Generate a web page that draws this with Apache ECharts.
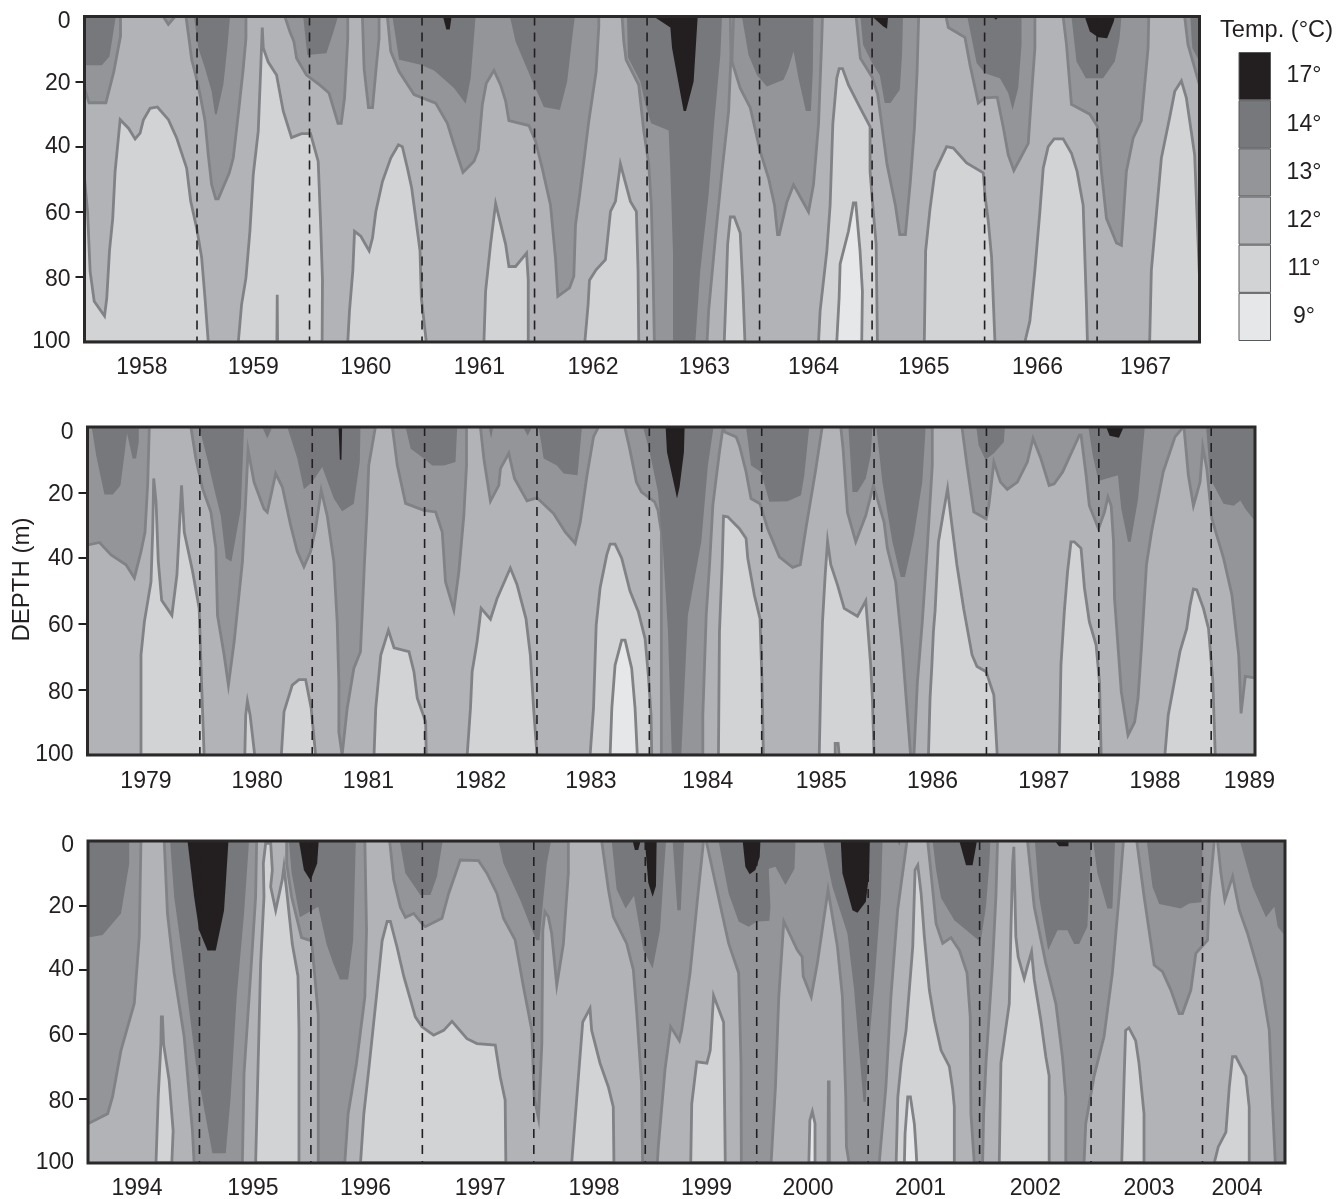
<!DOCTYPE html>
<html><head><meta charset="utf-8">
<style>html,body{margin:0;padding:0;background:#fff}#c{width:1336px;height:1199px}</style>
<script src="https://cdn.jsdelivr.net/npm/echarts@6/dist/echarts.min.js"></script>
</head><body><div id="c"></div>
<script>
// Every point is [year, depth in metres].
var depthTicks=[20,40,60,80];
var depthLabelPositions=[1.6,20.5,40,60.5,81,100];
var legendLabels=['9°','11°','12°','13°','14°','17°'];
var legendColors=['#e6e7e8','#d1d3d4','#b1b3b6','#939598','#77787b','#231f20'];

// ---------- 1958-1967 ----------
var p1YearTicks=[1959,1960,1961,1962,1963,1964,1965,1966,1967];
var p1LabelYears=[1958.51,1959.5,1960.5,1961.51,1962.52,1963.51,1964.48,1965.46,1966.47,1967.43];
var p1Band13=[
[[1958,0],[1958.32,0],[1958.32,6],[1958.26,17],[1958.19,26.5],[1958.04,26.5],[1958,22]],
[[1958.7,0],[1958.745,2.4],[1958.805,0]],
[[1958.902,0],[1958.932,7.7],[1958.953,13.3],[1958.991,18.4],[1959.027,24],[1959.071,32],[1959.1,42.5],[1959.13,51.7],[1959.166,56],[1959.189,56],[1959.287,48],[1959.322,43.5],[1959.367,30],[1959.411,15.9],[1959.435,6.7],[1959.435,0]],
[[1959.781,0],[1959.825,4.6],[1959.861,7.7],[1959.885,12.8],[1959.973,18],[1960.09,21],[1960.173,23.5],[1960.253,32.8],[1960.282,32.8],[1960.311,25],[1960.34,6.7],[1960.34,0]],
[[1960.47,0],[1960.485,16],[1960.524,28],[1960.56,28],[1960.589,17],[1960.618,6.7],[1960.618,0]],
[[1960.692,0],[1960.722,10.7],[1960.796,16.9],[1960.929,24],[1961.003,25],[1961.121,26.6],[1961.225,32.8],[1961.284,39.4],[1961.364,47.9],[1961.462,44.5],[1961.5,41],[1961.536,27],[1961.571,20.5],[1961.639,16.6],[1961.698,21],[1961.743,26],[1961.772,32],[1961.95,33.5],[1962.009,38.4],[1962.068,46.6],[1962.142,58],[1962.186,74.2],[1962.207,86],[1962.311,83.4],[1962.349,79.8],[1962.364,64],[1962.4,55],[1962.482,32.2],[1962.547,17],[1962.571,3],[1962.571,0]],
[[1962.778,0],[1962.793,7.7],[1962.814,13.3],[1962.926,21],[1962.97,35],[1963.015,45.5],[1963.038,58],[1963.053,78],[1963.065,100],[1963.533,100],[1963.547,90.5],[1963.607,68],[1963.666,47.6],[1963.725,29],[1963.746,12],[1963.74,0]],
[[1963.769,0],[1963.754,13.8],[1963.828,22],[1963.917,28],[1964.006,41.5],[1964.08,49.7],[1964.133,58],[1964.16,67],[1964.175,67],[1964.243,57],[1964.302,51.7],[1964.435,60],[1964.479,51.7],[1964.524,33],[1964.553,6.7],[1964.559,0]],
[[1964.858,0],[1964.896,12.8],[1965,18.6],[1965.05,24],[1965.133,45.5],[1965.207,58],[1965.246,67],[1965.296,67],[1965.34,50.7],[1965.376,34.3],[1965.4,16.9],[1965.414,0]],
[[1965.657,0],[1965.678,3.4],[1965.825,6.4],[1965.87,14.8],[1965.944,26.6],[1966.003,25],[1966.112,24.8],[1966.166,34],[1966.21,42.5],[1966.26,47.3],[1966.388,39],[1966.417,24],[1966.447,9.7],[1966.447,0]],
[[1966.698,0],[1966.728,8.7],[1966.772,27],[1966.935,30],[1967.003,33.8],[1967.038,47.6],[1967.083,62],[1967.172,69.6],[1967.216,70.3],[1967.26,47.6],[1967.32,37.4],[1967.393,32],[1967.453,9.7],[1967.459,0]],
[[1967.778,0],[1967.808,8.7],[1967.91,21],[1967.91,0]]
];
var p1Band14=[
[[1958,0],[1958.278,0],[1958.222,12.3],[1958.154,15],[1958,15]],
[[1958.973,0],[1959.012,9.7],[1959.071,15.9],[1959.13,23],[1959.16,30],[1959.175,30],[1959.234,21],[1959.269,9.7],[1959.293,0]],
[[1959.944,0],[1959.98,11.8],[1960.15,11.3],[1960.21,5],[1960.253,0]],
[[1960.737,0],[1960.796,13.3],[1960.988,14.8],[1961.107,16.6],[1961.284,22],[1961.388,26.8],[1961.432,19],[1961.476,0]],
[[1961.781,0],[1961.831,7.7],[1961.994,21],[1962.083,27.8],[1962.225,28.7],[1962.29,20],[1962.334,6.7],[1962.358,0]],
[[1962.822,0],[1962.83,12.5],[1962.941,20],[1962.985,27],[1963.036,32.8],[1963.192,35],[1963.207,47.6],[1963.231,73],[1963.231,100],[1963.429,100],[1963.473,78],[1963.547,54.8],[1963.598,32],[1963.651,12],[1963.666,0]],
[[1963.843,0],[1963.902,11.8],[1963.976,18],[1964.065,21.5],[1964.213,19.4],[1964.257,15.9],[1964.302,10.7],[1964.346,19],[1964.411,29],[1964.456,29],[1964.473,17],[1964.479,0]],
[[1964.896,0],[1964.92,8.7],[1965,14.3],[1965.068,18],[1965.112,26.6],[1965.163,26.6],[1965.246,22.5],[1965.266,11.8],[1965.275,0]],
[[1965.846,0],[1965.929,14.3],[1966.003,17.4],[1966.136,19],[1966.21,23.5],[1966.249,28.7],[1966.299,22],[1966.328,8.7],[1966.328,0]],
[[1966.772,0],[1966.817,13.8],[1966.9,19],[1967.053,19],[1967.157,13.8],[1967.2,6.7],[1967.216,0]],
[[1967.828,0],[1967.846,9.7],[1967.91,13.8],[1967.91,0]]
];
var p1Band17=[
[[1961.186,0],[1961.216,4],[1961.246,4],[1961.263,0]],
[[1963.059,0],[1963.207,3.4],[1963.222,9.7],[1963.325,29],[1963.346,29],[1963.414,20],[1963.45,0]],
[[1965,0],[1965.098,3],[1965.133,3.8],[1965.142,0]],
[[1966.071,0],[1966.101,1],[1966.127,0]],
[[1966.89,0],[1966.935,4.6],[1967.009,6.4],[1967.089,6.7],[1967.148,1.5],[1967.157,0]]
];
var p1Band11=[
[[1958,100],[1958,49.6],[1958.027,60],[1958.05,78.3],[1958.086,87.5],[1958.178,92],[1958.198,86.5],[1958.222,72],[1958.251,62],[1958.272,47.6],[1958.317,31.7],[1958.391,34.3],[1958.45,37.6],[1958.494,35.8],[1958.524,31.7],[1958.583,28.2],[1958.648,27.8],[1958.746,31.7],[1958.82,37.4],[1958.908,46.6],[1958.944,56.8],[1958.997,65],[1959.041,74],[1959.071,86.5],[1959.1,100]],
[[1959.367,100],[1959.396,88.5],[1959.435,80.3],[1959.47,66],[1959.5,48.6],[1959.544,35.3],[1959.565,17],[1959.58,3.4],[1959.589,9.7],[1959.633,14],[1959.707,18],[1959.766,29],[1959.84,37.2],[1959.929,36],[1960.009,36],[1960.077,44.5],[1960.098,63],[1960.115,81],[1960.112,100],[1959.716,100],[1959.713,85.5],[1959.71,100]],
[[1960.34,100],[1960.355,90.5],[1960.385,78],[1960.4,66],[1960.456,67.5],[1960.53,72],[1960.56,68],[1960.589,60],[1960.648,50.7],[1960.722,43.5],[1960.79,39.4],[1960.825,40],[1960.87,46.6],[1960.908,52.7],[1960.944,62],[1960.982,72],[1960.994,86.5],[1961.038,100]],
[[1961.55,100],[1961.565,84.4],[1961.609,70],[1961.654,57.5],[1961.743,70],[1961.772,76.8],[1961.831,76.8],[1961.929,72.7],[1961.944,81],[1961.944,100]],
[[1962.447,100],[1962.476,88.5],[1962.488,81],[1962.547,77.8],[1962.63,74.7],[1962.675,59.9],[1962.719,56.8],[1962.763,45.3],[1962.852,56.8],[1962.905,59.9],[1962.92,78.3],[1962.926,100]],
[[1963.686,100],[1963.704,83],[1963.716,70],[1963.74,61.6],[1963.775,61.6],[1963.828,66.5],[1963.852,83.4],[1963.87,100]],
[[1964.524,100],[1964.538,90.5],[1964.598,72],[1964.627,58],[1964.651,33],[1964.686,19],[1964.707,16],[1964.737,16],[1964.79,21],[1964.893,28],[1964.982,33.8],[1964.982,47.6],[1965.006,58],[1965.036,70],[1965.047,100]],
[[1965.464,100],[1965.476,72],[1965.515,59],[1965.559,47.6],[1965.663,40],[1965.722,40.4],[1965.84,45],[1965.988,48],[1966.003,54.8],[1966.033,63],[1966.062,74],[1966.092,100]],
[[1966.358,100],[1966.402,93.6],[1966.447,78],[1966.491,60],[1966.521,46.6],[1966.565,40],[1966.618,37.6],[1966.698,37.6],[1966.772,42],[1966.822,47.6],[1966.876,58],[1966.905,88.5],[1966.914,100]],
[[1967.467,100],[1967.482,78],[1967.571,43.5],[1967.645,31],[1967.69,23],[1967.749,19.8],[1967.793,25],[1967.867,42.5],[1967.896,68],[1967.91,80],[1967.91,100]]
];
var p1Band9=[
[[1964.686,100],[1964.707,86.5],[1964.716,76],[1964.79,66],[1964.834,57.3],[1964.855,57.3],[1964.893,72],[1964.914,84.4],[1964.908,100]]
];

// ---------- 1979-1989 ----------
var p2YearTicks=[1980,1981,1982,1983,1984,1985,1986,1987,1988,1989];
var p2LabelYears=[1979.52,1980.51,1981.5,1982.5,1983.48,1984.52,1985.53,1986.52,1987.51,1988.5,1989.34];
var p2Band13=[
[[1979,0],[1979,36],[1979.107,35.2],[1979.21,39],[1979.343,42],[1979.417,46],[1979.476,38],[1979.512,32],[1979.536,17],[1979.55,0]],
[[1979.92,0],[1979.964,9.6],[1980.024,18.8],[1980.098,25.9],[1980.142,37],[1980.157,57.4],[1980.216,69.5],[1980.254,78.7],[1980.305,65.5],[1980.379,41],[1980.408,22],[1980.429,7],[1980.482,16.8],[1980.571,25],[1980.6,26],[1980.675,14.2],[1980.734,18.3],[1980.808,30],[1980.867,38],[1980.926,42.6],[1980.985,38],[1981.03,31],[1981.08,19.3],[1981.133,27],[1981.192,41],[1981.222,59.4],[1981.237,78],[1981.237,93],[1981.266,100],[1981.311,85.8],[1981.37,73.6],[1981.429,68.5],[1981.444,57.4],[1981.464,42],[1981.488,25],[1981.503,11.7],[1981.562,0]],
[[1981.713,0],[1981.757,11.7],[1981.831,23.3],[1981.994,25.4],[1982.098,25.9],[1982.157,32],[1982.186,47.2],[1982.26,55.8],[1982.305,44],[1982.349,27],[1982.373,11.7],[1982.373,0]],
[[1982.497,0],[1982.527,9.6],[1982.586,22.6],[1982.66,17.8],[1982.675,12.7],[1982.749,8],[1982.8,15.7],[1982.911,22.5],[1983,21.6],[1983.148,26.4],[1983.251,32],[1983.34,35.5],[1983.385,29],[1983.444,15],[1983.503,3],[1983.547,0]],
[[1983.781,0],[1983.825,6.6],[1983.885,16.8],[1983.929,19.8],[1984.047,22.8],[1984.077,25.4],[1984.107,32],[1984.107,100],[1984.476,100],[1984.476,87.8],[1984.506,57.4],[1984.536,42],[1984.565,23.9],[1984.624,7.6],[1984.654,0.5],[1984.66,0]],
[[1984.66,0],[1984.67,1.5],[1984.772,3],[1984.802,5.6],[1984.861,13.7],[1984.905,21.8],[1984.985,23.4],[1985.053,31],[1985.157,39.6],[1985.275,42.8],[1985.343,42],[1985.393,31],[1985.482,12.7],[1985.536,0.5],[1985.54,0]],
[[1985.704,0],[1985.725,7],[1985.763,26],[1985.837,35],[1985.926,27],[1985.994,17.8],[1986.089,29],[1986.118,37],[1986.192,47.2],[1986.251,67.5],[1986.325,100],[1986.355,100],[1986.385,78],[1986.429,59.4],[1986.473,37],[1986.518,11.7],[1986.518,0]],
[[1986.782,0],[1986.827,11.7],[1986.887,25.9],[1986.997,28],[1987.021,24],[1987.066,10.7],[1987.125,16.8],[1987.185,19],[1987.275,16.8],[1987.364,10.7],[1987.415,3.5],[1987.484,9.6],[1987.558,17.8],[1987.603,17.3],[1987.678,13.7],[1987.827,2.5],[1987.842,2.5],[1987.887,14.7],[1987.916,24],[1987.997,31],[1988.05,26],[1988.081,21.3],[1988.11,24],[1988.131,35],[1988.14,52.3],[1988.2,80.7],[1988.26,94],[1988.319,90],[1988.349,82.7],[1988.379,67.5],[1988.424,42],[1988.469,32],[1988.573,13.7],[1988.678,3],[1988.752,0]],
[[1988.758,0],[1988.797,14.7],[1988.842,24],[1988.901,16.8],[1988.925,6],[1988.961,12.7],[1989.006,28],[1989.11,40],[1989.185,51.3],[1989.245,69.5],[1989.266,87.3],[1989.304,76],[1989.39,76.5],[1989.39,0]]
];
var p2Band14=[
[[1979.038,0],[1979.077,8.6],[1979.151,20.6],[1979.225,20.6],[1979.293,17.8],[1979.328,8.6],[1979.352,2],[1979.402,9.6],[1979.432,9.6],[1979.456,4.6],[1979.456,0]],
[[1979.994,0],[1980.068,10],[1980.127,18.8],[1980.186,27],[1980.231,40],[1980.281,41],[1980.364,25],[1980.393,0]],
[[1980.556,0],[1980.6,3.5],[1980.645,0]],
[[1980.778,0],[1980.867,9.6],[1980.926,19],[1981,16.8],[1981.089,12.2],[1981.192,21.8],[1981.266,25.7],[1981.37,23.4],[1981.423,10.7],[1981.429,0]],
[[1981.831,0],[1981.876,6.6],[1981.994,9.6],[1982.068,11.7],[1982.172,11.7],[1982.275,10.7],[1982.29,0]],
[[1982.571,0],[1982.592,3.5],[1982.61,0]],
[[1982.876,0],[1982.917,2.7],[1982.956,0]],
[[1983.015,0],[1983.059,9.6],[1983.178,11.7],[1983.237,14.2],[1983.361,14.7],[1983.4,0]],
[[1983.944,0],[1984.003,7.6],[1984.077,19.8],[1984.121,37],[1984.166,62.4],[1984.2,100],[1984.284,100],[1984.343,57.4],[1984.462,35],[1984.521,11.7],[1984.571,0]],
[[1984.861,0],[1984.905,11.7],[1984.994,13.7],[1985.068,22.8],[1985.231,22.6],[1985.349,20.8],[1985.379,14.7],[1985.423,0]],
[[1985.772,0],[1985.808,19.8],[1985.852,19.8],[1985.926,15.7],[1985.97,8.6],[1985.985,0]],
[[1986.02,0],[1986.074,16.8],[1986.163,35],[1986.237,45.7],[1986.275,45.7],[1986.355,33],[1986.429,16.8],[1986.459,0]],
[[1986.91,0],[1986.931,5.6],[1986.991,10],[1987.066,8],[1987.155,4.6],[1987.164,0]],
[[1987.907,0],[1987.946,8.6],[1987.997,16.5],[1988.17,14.7],[1988.2,24.9],[1988.26,35],[1988.284,35],[1988.349,22],[1988.409,0]],
[[1988.955,0],[1988.991,15.7],[1989.11,23.4],[1989.2,24],[1989.26,22.4],[1989.304,25],[1989.385,28.4],[1989.39,28.4],[1989.39,0]]
];
var p2Band17=[
[[1981.234,0],[1981.246,10],[1981.26,10],[1981.266,0]],
[[1984.145,0],[1984.157,7.6],[1984.225,18.3],[1984.246,21.8],[1984.269,18.3],[1984.308,7.6],[1984.314,0]],
[[1988.066,0],[1988.096,2.7],[1988.179,3.3],[1988.221,0]]
];
var p2Band11=[
[[1979.476,100],[1979.476,69.5],[1979.506,59.4],[1979.565,47.2],[1979.58,32],[1979.589,15.7],[1979.61,22.8],[1979.63,41],[1979.66,52.8],[1979.751,57.4],[1979.796,45],[1979.837,17.8],[1979.861,32],[1979.935,44],[1979.994,55.3],[1980.015,78],[1980.038,100]],
[[1980.4,100],[1980.408,87.8],[1980.423,83.6],[1980.447,87.8],[1980.488,100]],
[[1980.725,100],[1980.749,86.8],[1980.822,78.7],[1980.882,77],[1980.941,77],[1980.991,85.8],[1981.03,100]],
[[1981.55,100],[1981.565,85.8],[1981.61,69.5],[1981.678,62],[1981.728,67.3],[1981.861,68.5],[1981.905,74.6],[1981.935,82.7],[1982.009,89.8],[1982.015,100]],
[[1982.379,100],[1982.408,85.8],[1982.423,74.6],[1982.467,65.5],[1982.503,55.3],[1982.586,58.6],[1982.645,52.3],[1982.763,43],[1982.822,48],[1982.902,58.4],[1982.941,69.5],[1982.97,85.8],[1983,100]],
[[1983.473,100],[1983.503,85.8],[1983.527,60.4],[1983.562,49],[1983.621,39],[1983.651,35.7],[1983.695,35.7],[1983.754,40],[1983.828,50],[1983.902,56.3],[1983.962,64.5],[1983.991,75.6],[1984.015,87.8],[1984.021,100]],
[[1984.615,100],[1984.624,62.4],[1984.648,42],[1984.66,27.2],[1984.698,27.4],[1984.802,31],[1984.861,34],[1984.876,40],[1984.935,51.3],[1984.985,58.4],[1985.003,78],[1985.015,100]],
[[1985.512,100],[1985.527,75.6],[1985.541,59.4],[1985.565,45],[1985.586,34.8],[1985.615,42],[1985.675,48.2],[1985.734,55.3],[1985.852,57.7],[1985.926,53],[1985.97,72.6],[1985.985,82.7],[1986,100],[1985.689,100],[1985.68,96.5],[1985.654,96.5],[1985.654,100]],
[[1986.484,100],[1986.498,82.7],[1986.513,73.6],[1986.528,62.4],[1986.543,56],[1986.573,35],[1986.618,25.9],[1986.654,18.8],[1986.678,25.9],[1986.737,42],[1986.797,55.3],[1986.872,69.5],[1986.916,73],[1986.997,74.6],[1987.066,81.7],[1987.096,100]],
[[1987.648,100],[1987.663,72.6],[1987.693,56.3],[1987.722,44],[1987.752,35],[1987.782,35],[1987.842,37],[1987.872,49],[1987.916,59.4],[1987.976,66.5],[1988.006,77.7],[1988.021,100]],
[[1988.588,100],[1988.618,87.8],[1988.722,68.5],[1988.782,61.5],[1988.812,54.3],[1988.842,49.4],[1988.872,49.7],[1988.931,55.3],[1988.976,61.4],[1989.015,77.7],[1989.036,100]]
];
var p2Band9=[
[[1983.651,100],[1983.666,85.8],[1983.695,72.6],[1983.754,65],[1983.784,65],[1983.843,73.6],[1983.873,85.8],[1983.893,100]]
];

// ---------- 1994-2004 ----------
var p3YearTicks=[1995,1996,1997,1998,1999,2000,2001,2002,2003,2004];
var p3LabelYears=[1994.44,1995.48,1996.49,1997.52,1998.54,1999.55,2000.46,2001.47,2002.5,2003.52,2004.31];
var p3Band13=[
[[1994,0],[1994,87.8],[1994.176,84.7],[1994.22,79.5],[1994.296,65],[1994.415,50.5],[1994.46,29.7],[1994.475,0]],
[[1994.684,0],[1994.713,22.5],[1994.773,41],[1994.863,60.8],[1994.937,90],[1994.952,100],[1995.385,100],[1995.4,72.2],[1995.46,41],[1995.504,17.3],[1995.513,0]],
[[1995.782,0],[1995.782,7],[1995.827,17.3],[1995.916,30],[1996.006,31],[1996.066,54],[1996.066,100],[1996.304,100],[1996.334,84.7],[1996.409,69],[1996.484,48.4],[1996.499,27.7],[1996.484,0]],
[[1996.707,0],[1996.743,12],[1996.803,20.6],[1996.848,23.7],[1996.922,22.5],[1996.997,25.6],[1997.027,26.6],[1997.176,24],[1997.236,16.3],[1997.34,5.9],[1997.504,6.1],[1997.579,10],[1997.669,16.3],[1997.728,24],[1997.833,30.8],[1997.907,45.3],[1997.982,58.8],[1998.003,79.5],[1998.042,86.2],[1998.072,62.9],[1998.081,27.7],[1998.1,22],[1998.13,23.5],[1998.16,28.7],[1998.206,44.8],[1998.265,32],[1998.31,10],[1998.31,0]],
[[1998.609,0],[1998.669,15],[1998.713,23.5],[1998.833,31.8],[1998.893,40],[1998.922,52.6],[1998.967,75.4],[1998.976,100],[1999.108,100],[1999.117,95],[1999.177,71],[1999.228,57.7],[1999.306,62],[1999.327,58.8],[1999.402,41],[1999.477,15.2],[1999.523,0]],
[[1999.547,0],[1999.643,15.2],[1999.748,31.8],[1999.838,41],[1999.859,69],[1999.862,100],[2000.129,100],[2000.168,76.4],[2000.198,48.4],[2000.243,25],[2000.363,33.8],[2000.408,36],[2000.417,42],[2000.489,48.4],[2000.544,38],[2000.64,15.2],[2000.724,32.8],[2000.769,48.4],[2000.799,79.5],[2000.805,95],[2000.829,100],[2001.099,100],[2001.159,76.4],[2001.204,48.4],[2001.264,21.5],[2001.348,0]],
[[2001.534,0],[2001.564,10],[2001.609,25.6],[2001.669,31.8],[2001.743,30],[2001.818,33.9],[2001.887,41],[2001.916,54.6],[2001.922,84.7],[2001.952,100],[2002.027,100],[2002.036,84.7],[2002.057,69],[2002.116,38],[2002.146,17.3],[2002.161,0]],
[[2002.43,0],[2002.49,20.4],[2002.594,38],[2002.684,50.5],[2002.743,67],[2002.773,79.5],[2002.773,100],[2002.937,100],[2002.952,87.8],[2003.027,73],[2003.116,60.8],[2003.191,41],[2003.251,17.3],[2003.29,0]],
[[2003.41,0],[2003.476,17.3],[2003.566,38.5],[2003.641,40.6],[2003.716,46.3],[2003.79,53.6],[2003.82,53.6],[2003.895,46.3],[2003.94,34.9],[2004.045,30.8],[2004.06,17.3],[2004.105,0]],
[[2004.135,0],[2004.165,10],[2004.2,18.3],[2004.27,11],[2004.33,21.5],[2004.404,28.7],[2004.524,43.2],[2004.599,58.8],[2004.629,82.6],[2004.653,100],[2004.74,100],[2004.74,0]]
];
var p3Band14=[
[[1994,0],[1994,30],[1994.131,29.2],[1994.296,22.5],[1994.37,7],[1994.37,0]],
[[1994.737,0],[1994.773,17.3],[1994.863,40],[1994.967,69],[1995.116,97],[1995.236,97],[1995.28,79.5],[1995.334,48.4],[1995.4,22.5],[1995.445,0]],
[[1995.803,0],[1995.827,10],[1995.901,23.7],[1996.066,20.4],[1996.14,32],[1996.2,38],[1996.26,43],[1996.334,43],[1996.379,30.8],[1996.403,0]],
[[1996.797,0],[1996.848,10],[1996.982,16.8],[1997.072,16.8],[1997.131,11],[1997.182,0]],
[[1997.684,0],[1997.728,7],[1997.878,18.3],[1998.021,30.8],[1998.051,30.8],[1998.087,17.3],[1998.116,7],[1998.155,0]],
[[1998.699,0],[1998.743,15],[1998.824,21],[1998.899,17],[1998.982,33.8],[1999.066,39.6],[1999.132,27.7],[1999.162,12],[1999.186,0]],
[[1999.246,0],[1999.288,21.5],[1999.318,21.5],[1999.348,0]],
[[1999.658,0],[1999.748,16.3],[1999.838,25],[1999.928,26.6],[2000.003,25],[2000.114,24.8],[2000.123,20.4],[2000.108,8.6],[2000.168,8],[2000.258,13.7],[2000.339,8.6],[2000.348,0]],
[[2000.595,0],[2000.679,14.2],[2000.814,28.7],[2000.874,46.2],[2000.958,81],[2000.979,81],[2000.994,68],[2001.054,45],[2001.114,17.3],[2001.129,0]],
[[2001.264,0],[2001.279,1.5],[2001.294,0]],
[[2001.579,0],[2001.609,8.9],[2001.654,17.7],[2001.773,24.6],[2001.982,30.6],[2002.012,30.6],[2002.057,20.4],[2002.087,7],[2002.096,0]],
[[2002.496,0],[2002.534,17.3],[2002.615,33.9],[2002.699,27.7],[2002.788,27.7],[2002.848,32],[2002.893,32],[2002.967,26.6],[2003.003,0]],
[[2003.018,0],[2003.057,10],[2003.146,21],[2003.191,21],[2003.215,0]],
[[2003.5,0],[2003.551,14.2],[2003.611,19.6],[2003.805,21],[2003.88,19.4],[2003.991,19],[2004,0]],
[[2004.335,0],[2004.449,14.2],[2004.569,23.7],[2004.644,20.4],[2004.674,26.6],[2004.734,29.2],[2004.74,29.2],[2004.74,0]]
];
var p3Band17=[
[[1994.893,0],[1994.952,17.3],[1994.997,27.7],[1995.072,34],[1995.146,34],[1995.221,21.5],[1995.26,0]],
[[1995.893,0],[1995.937,9],[1995.997,12.3],[1996.056,7],[1996.07,0]],
[[1998.887,0],[1998.907,2.8],[1998.937,2.8],[1998.958,0]],
[[1998.997,0],[1999.027,13],[1999.066,17.3],[1999.096,14],[1999.102,0]],
[[1999.874,0],[1999.898,8],[1999.937,10.3],[1999.988,9],[2000.027,5],[2000.033,0]],
[[2000.754,0],[2000.769,10],[2000.859,21.5],[2000.904,22.3],[2000.979,18.9],[2001.009,10],[2001.015,0]],
[[2001.818,0],[2001.878,7.5],[2001.937,7.5],[2001.976,0]],
[[2002.675,0],[2002.713,1.6],[2002.797,1.6],[2002.797,0]]
];
var p3Band11=[
[[1994.61,100],[1994.63,79.5],[1994.654,63],[1994.658,54.6],[1994.668,54.6],[1994.678,63],[1994.728,74.3],[1994.764,90],[1994.752,100]],
[[1995.504,100],[1995.534,58.8],[1995.549,38],[1995.579,17.3],[1995.573,7],[1995.594,0.7],[1995.639,0.7],[1995.654,9],[1995.639,14.2],[1995.684,21.5],[1995.743,12],[1995.758,8],[1995.788,17.3],[1995.833,32],[1995.884,42],[1995.893,58.8],[1995.893,100]],
[[1996.445,100],[1996.475,84.7],[1996.519,71],[1996.594,46.3],[1996.639,31],[1996.684,25],[1996.713,25],[1996.773,33],[1996.833,42],[1996.937,54.6],[1996.997,57.7],[1997.101,60.3],[1997.191,58.8],[1997.266,56],[1997.4,61.4],[1997.49,62.9],[1997.654,63.4],[1997.699,73.3],[1997.743,80.5],[1997.749,100]],
[[1998.34,100],[1998.4,73.3],[1998.439,56.2],[1998.504,52],[1998.519,58.8],[1998.594,69],[1998.669,76.4],[1998.713,82.6],[1998.719,100]],
[[1999.408,100],[1999.417,81.6],[1999.462,68.6],[1999.553,69],[1999.583,65],[1999.613,48],[1999.703,56.3],[1999.718,100]],
[[2000.64,100],[2000.643,74.8],[2000.65,74.8],[2000.652,100]],
[[2001.251,100],[2001.266,79.5],[2001.296,69],[2001.34,58.8],[2001.4,32.8],[2001.421,9],[2001.445,7.5],[2001.475,16.3],[2001.504,29.7],[2001.549,46.3],[2001.594,55.6],[2001.654,65],[2001.728,70],[2001.758,77],[2001.773,82.6],[2001.773,100]],
[[2002.176,100],[2002.191,69],[2002.266,50.5],[2002.281,27.7],[2002.296,7],[2002.307,1.8],[2002.325,29.7],[2002.346,36],[2002.4,42.7],[2002.436,38],[2002.466,34.4],[2002.49,43],[2002.549,55.6],[2002.594,67],[2002.624,73],[2002.624,100]],
[[2003.275,100],[2003.296,74.3],[2003.31,58.8],[2003.34,58],[2003.4,62],[2003.43,69],[2003.475,84.7],[2003.475,100]],
[[2004.105,100],[2004.141,95],[2004.21,90.4],[2004.24,76.4],[2004.269,67],[2004.299,67],[2004.389,73],[2004.419,82.6],[2004.419,100]]
];
var p3Band9=[
[[2000.468,100],[2000.477,86.7],[2000.499,84],[2000.523,87.7],[2000.523,100]],
[[2001.325,100],[2001.331,91],[2001.355,79.5],[2001.379,79.5],[2001.415,88],[2001.43,96],[2001.436,100]]
];

var INK='#231f20', STROKE='#808285', FONT='"Liberation Sans",Arial,sans-serif', FS=23;
var COL={9:'#e6e7e8',11:'#d1d3d4',12:'#b1b3b6',13:'#939598',14:'#77787b',17:'#231f20'};

var panels=[
 {left:84.5,top:16.5,w:1115,h:325.5,min:1958,max:1967.91,ticks:p1YearTicks,labels:p1LabelYears,margin:14,
  bands:[[13,p1Band13],[14,p1Band14],[17,p1Band17],[11,p1Band11],[9,p1Band9]]},
 {left:87.5,top:427,w:1167.5,h:328,min:1979,max:1989.39,ticks:p2YearTicks,labels:p2LabelYears,margin:15,
  bands:[[13,p2Band13],[14,p2Band14],[17,p2Band17],[11,p2Band11],[9,p2Band9]]},
 {left:88,top:841,w:1197,h:322,min:1994,max:2004.74,ticks:p3YearTicks,labels:p3LabelYears,margin:14,
  bands:[[13,p3Band13],[14,p3Band14],[17,p3Band17],[11,p3Band11],[9,p3Band9]]}
];

var grids=[],xAxes=[],yAxes=[],series=[];
panels.forEach(function(p,i){
  grids.push({left:p.left,top:p.top,width:p.w,height:p.h,show:true,borderWidth:0,backgroundColor:COL[12],outerBoundsMode:'none'});
  xAxes.push({type:'value',gridIndex:i,min:p.min,max:p.max,splitLine:{show:false},
    axisLine:{show:false},
    axisTick:{show:true,customValues:p.ticks,length:10,inside:false,lineStyle:{color:INK,width:2}},
    axisLabel:{show:true,customValues:p.labels,margin:p.margin,fontFamily:FONT,fontSize:FS,color:INK,hideOverlap:false,
      formatter:function(v){return String(Math.floor(v));}}});
  yAxes.push({type:'value',gridIndex:i,inverse:true,min:0,max:100,interval:20,splitLine:{show:false},
    axisLine:{show:false},
    axisTick:{show:true,customValues:depthTicks,length:9,lineStyle:{color:INK,width:2}},
    axisLabel:{customValues:depthLabelPositions,margin:14,fontFamily:FONT,fontSize:FS,color:INK,
      formatter:function(v){return String(Math.round(v/20)*20);}}});
  p.bands.forEach(function(b){
    var temp=b[0];
    b[1].forEach(function(poly,k){
      series.push({type:'custom',name:temp+'° p'+(i+1)+'-'+k,xAxisIndex:i,yAxisIndex:i,animation:false,silent:true,
        data:poly,encode:{x:0,y:1},clip:true,
        renderItem:function(params,api){
          if(params.dataIndex!==0) return null;
          var pts=poly.map(function(q){return api.coord(q);});
          var lined=(temp===13||temp===11||temp===9);
          return {type:'polygon',shape:{points:pts},style:{fill:COL[temp],stroke:lined?STROKE:null,lineWidth:lined?2.8:0,lineJoin:'miter'}};
        }});
    });
  });
  // dashed year boundaries
  series.push({type:'custom',name:'years p'+(i+1),xAxisIndex:i,yAxisIndex:i,animation:false,silent:true,z:4,
    data:p.ticks.map(function(t){return [t,0];}),encode:{x:0,y:1},
    renderItem:function(params,api){
      var a=api.coord([api.value(0),0]),b=api.coord([api.value(0),100]);
      return {type:'line',shape:{x1:a[0],y1:a[1],x2:b[0],y2:b[1]},style:{stroke:INK,lineWidth:1.6,lineDash:[9,7]}};
    }});
  // frame
  series.push({type:'custom',name:'frame p'+(i+1),xAxisIndex:i,yAxisIndex:i,animation:false,silent:true,z:5,clip:false,
    data:[[p.min,0]],encode:{x:0,y:1},
    renderItem:function(params,api){
      var a=api.coord([p.min,0]),b=api.coord([p.max,100]);
      return {type:'rect',shape:{x:a[0],y:a[1],width:b[0]-a[0],height:b[1]-a[1]},style:{fill:null,stroke:'#2b2829',lineWidth:3}};
    }});
});

// legend as a small bar chart
grids.push({left:1238.5,top:52,width:32.5,height:289,outerBoundsMode:'none'});
xAxes.push({type:'value',gridIndex:3,min:0,max:1,show:false});
yAxes.push({type:'category',gridIndex:3,data:legendLabels,position:'right',
  axisLine:{show:false},axisTick:{show:false},
  axisLabel:{margin:33,align:'center',fontFamily:FONT,fontSize:FS,color:INK}});
series.push({type:'bar',name:'legend',xAxisIndex:3,yAxisIndex:3,barWidth:'100%',animation:false,silent:true,
  data:legendColors.map(function(c){return {value:1,itemStyle:{color:c,borderColor:'#58595b',borderWidth:1}};})});

var chart=echarts.init(document.getElementById('c'),null,{renderer:'canvas'});
chart.setOption({
  backgroundColor:'#fff',animation:false,
  title:{text:'Temp. (°C)',left:1215,top:13,textStyle:{fontFamily:FONT,fontSize:23.6,fontWeight:'normal',color:INK}},
  graphic:[{type:'text',x:22,y:579.5,rotation:Math.PI/2,
    style:{text:'DEPTH (m)',fontFamily:FONT,fontSize:24,fill:INK,align:'center',verticalAlign:'middle'}}],
  grid:grids,xAxis:xAxes,yAxis:yAxes,series:series
});
</script></body></html>
